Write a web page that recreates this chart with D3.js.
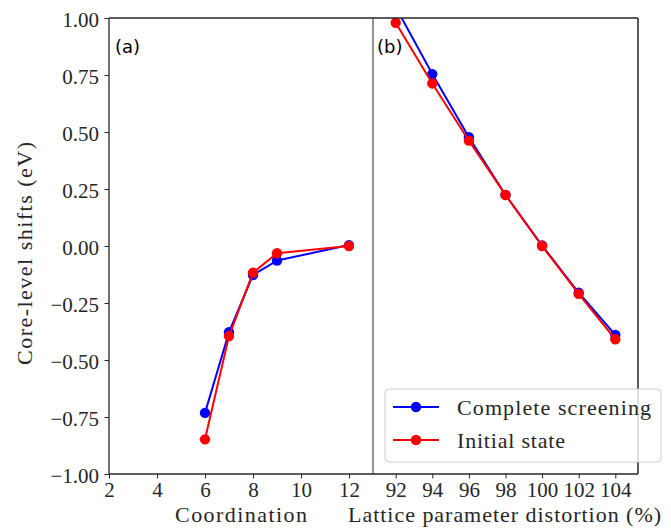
<!DOCTYPE html>
<html>
<head>
<meta charset="utf-8">
<script src="https://cdn.jsdelivr.net/npm/d3@7/dist/d3.min.js"></script>
<style>
  html, body { margin: 0; padding: 0; background: #fff; }
  svg { display: block; }
</style>
</head>
<body>
<svg id="chart" width="671" height="532"></svg>
<script>
// Panel (a): core-level shift versus coordination number
const coordination = [6, 7, 8, 9, 12];
const coordComplete = [-0.732, -0.378, -0.127, -0.064, 0.004];
const coordInitial  = [-0.848, -0.395, -0.117, -0.032, 0.000];

// Panel (b): core-level shift versus lattice parameter distortion (%)
const distortion = [92, 94, 96, 98, 100, 102, 104];
const distComplete = [1.048, 0.754, 0.477, 0.224, 0.002, -0.205, -0.390];
const distInitial  = [0.979, 0.713, 0.462, 0.224, 0.000, -0.210, -0.409];

// Tick values
const yTicks = [1.00, 0.75, 0.50, 0.25, 0.00, -0.25, -0.50, -0.75, -1.00];
const coordTicks = [2, 4, 6, 8, 10, 12];
const distTicks = [92, 94, 96, 98, 100, 102, 104];

const seriesNames = ["Complete screening", "Initial state"];
const seriesColors = ["#0000ff", "#ff0000"];

const svg = d3.select("#chart");
const plotTop = 18, plotBottom = 474;
const leftA = 109, rightA = 373, leftB = 373, rightB = 638;

const serif = "'Liberation Serif', 'DejaVu Serif', serif";
const ink = "#262626";

const y = d3.scaleLinear().domain([-1, 1]).range([plotBottom, plotTop]);
const xA = d3.scaleLinear().domain([2, 13]).range([leftA, rightA]);
const xB = d3.scaleLinear().domain([90.76, 105.24]).range([leftB, rightB]);

const fmt = d => {
  const s = Math.abs(d).toFixed(2);
  return d < -1e-9 ? "\u2212" + s : s;
};

// clip paths for each panel
const defs = svg.append("defs");
defs.append("clipPath").attr("id", "clipA").append("rect")
  .attr("x", leftA).attr("y", plotTop).attr("width", rightA - leftA).attr("height", plotBottom - plotTop);
defs.append("clipPath").attr("id", "clipB").append("rect")
  .attr("x", leftB).attr("y", plotTop).attr("width", rightB - leftB).attr("height", plotBottom - plotTop);

function drawSeries(g, x, xs, ys, color) {
  const pts = xs.map((v, i) => [v, ys[i]]);
  g.append("path")
    .datum(pts)
    .attr("fill", "none")
    .attr("stroke", color)
    .attr("stroke-width", 2)
    .attr("stroke-linejoin", "round")
    .attr("d", d3.line().x(d => x(d[0])).y(d => y(d[1])));
  g.selectAll(null)
    .data(pts)
    .enter().append("circle")
    .attr("cx", d => x(d[0]))
    .attr("cy", d => y(d[1]))
    .attr("r", 5.2)
    .attr("fill", color);
}

// data layers
const gA = svg.append("g").attr("clip-path", "url(#clipA)");
drawSeries(gA, xA, coordination, coordComplete, seriesColors[0]);
drawSeries(gA, xA, coordination, coordInitial, seriesColors[1]);

const gB = svg.append("g").attr("clip-path", "url(#clipB)");
drawSeries(gB, xB, distortion, distComplete, seriesColors[0]);
drawSeries(gB, xB, distortion, distInitial, seriesColors[1]);

// axes
const yAxis = svg.append("g")
  .attr("transform", `translate(${leftA},0)`)
  .call(d3.axisLeft(y).tickValues(yTicks).tickFormat(fmt).tickSize(4.5).tickPadding(5.5));
yAxis.selectAll(".tick text").attr("dy", "0.41em");

const xAxisA = svg.append("g")
  .attr("transform", `translate(0,${plotBottom})`)
  .call(d3.axisBottom(xA).tickValues(coordTicks).tickFormat(d3.format("d")).tickSize(4.5).tickPadding(4));

const xAxisB = svg.append("g")
  .attr("transform", `translate(0,${plotBottom})`)
  .call(d3.axisBottom(xB).tickValues(distTicks).tickFormat(d3.format("d")).tickSize(4.5).tickPadding(4));

[yAxis, xAxisA, xAxisB].forEach(a => {
  a.select(".domain").remove();
  a.selectAll(".tick line").attr("stroke", ink).attr("stroke-width", 1);
  a.selectAll(".tick text")
    .style("font-family", serif)
    .style("font-size", "21px")
    .attr("fill", ink);
});

// frames
const spine = (x1, y1, x2, y2, color, w) =>
  svg.append("line").attr("x1", x1).attr("y1", y1).attr("x2", x2).attr("y2", y2)
    .attr("stroke", color).attr("stroke-width", w);
spine(leftA, plotTop, rightB, plotTop, ink, 1.3);
spine(leftA, plotBottom, rightB, plotBottom, ink, 1.3);
spine(leftA, plotTop, leftA, plotBottom, ink, 1.3);
spine(rightB, plotTop, rightB, plotBottom, ink, 1.5);
spine(rightA, plotTop, rightA, plotBottom, "#3a3a3a", 1.1);

// panel tags
svg.append("text").attr("x", 115).attr("y", 53)
  .style("font-family", "'DejaVu Sans', sans-serif").style("font-size", "18px").attr("fill", "#000")
  .text("(a)");
svg.append("text").attr("x", 377).attr("y", 53)
  .style("font-family", "'DejaVu Sans', sans-serif").style("font-size", "18px").attr("fill", "#000")
  .text("(b)");

// axis titles
const title = (x, yy, rot, len, txt) =>
  svg.append("text")
    .attr("transform", `translate(${x},${yy}) rotate(${rot})`)
    .attr("text-anchor", "middle")
    .style("font-family", serif).style("font-size", "22px").attr("fill", ink)
    .attr("textLength", len).attr("lengthAdjust", "spacing")
    .text(txt);
title(32, 253.5, -90, 223, "Core-level shifts (eV)");
title(241, 522, 0, 132, "Coordination");
title(504.5, 522, 0, 313, "Lattice parameter distortion (%)");

// legend
const legendWidths = [194, 108];
const lg = svg.append("g");
lg.append("rect")
  .attr("x", 385).attr("y", 389).attr("width", 276).attr("height", 73)
  .attr("rx", 4).attr("ry", 4)
  .attr("fill", "#fff").attr("fill-opacity", 0.8)
  .attr("stroke", "#cccccc").attr("stroke-width", 1);
seriesNames.forEach((name, i) => {
  const cy = 407 + i * 33;
  lg.append("line").attr("x1", 393).attr("x2", 439).attr("y1", cy).attr("y2", cy)
    .attr("stroke", seriesColors[i]).attr("stroke-width", 2);
  lg.append("circle").attr("cx", 416).attr("cy", cy).attr("r", 5.2).attr("fill", seriesColors[i]);
  lg.append("text").attr("x", 457).attr("y", cy + 8)
    .style("font-family", serif).style("font-size", "22px").attr("fill", ink)
    .attr("textLength", legendWidths[i]).attr("lengthAdjust", "spacing")
    .text(name);
});
</script>
</body>
</html>
